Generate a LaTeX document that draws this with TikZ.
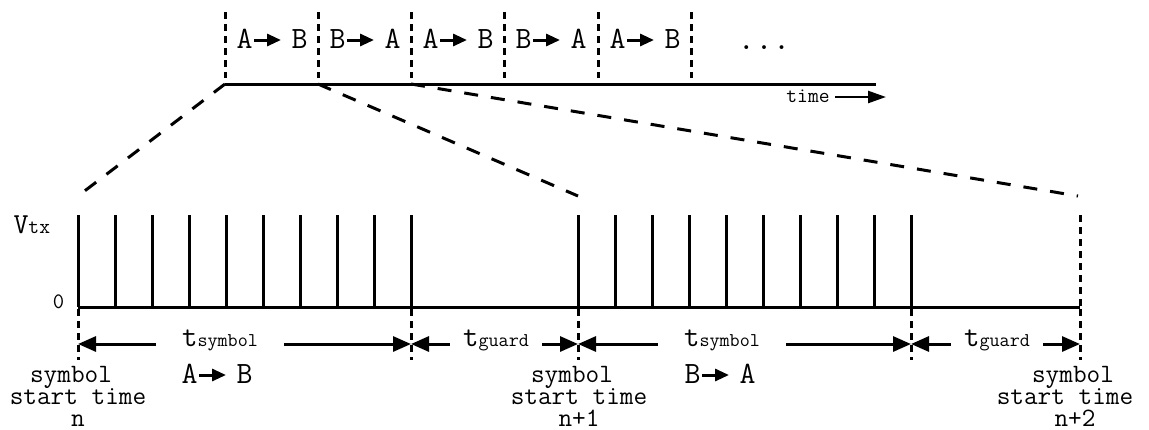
\documentclass[tikz,border=0pt]{standalone}
\usepackage{fontspec}
\usetikzlibrary{arrows.meta}
\newcommand{\fs}[1]{\fontsize{#1bp}{#1bp}\selectfont}
\newcommand{\rarr}{\tikz[baseline=0pt]\draw[line width=3bp,-{Triangle[length=14bp,width=12bp]}] (0bp,8bp) -- (27bp,8bp);}
\begin{document}
\begin{tikzpicture}[x=1bp,y=-1bp, line width=3bp,
  every node/.style={inner sep=0pt, font=\ttfamily},
  vdash/.style={dash pattern=on 6.5bp off 5.5bp},
  sdash/.style={dash pattern=on 14bp off 13bp},
  dim/.style={-{Triangle[length=18bp,width=15bp]}},
  symlab/.style={inner xsep=25bp, anchor=base},
  grdlab/.style={inner xsep=12bp, anchor=base},
  startlab/.style={align=center, anchor=base, font=\ttfamily\fontsize{26.5bp}{22bp}\selectfont},
]
\useasboundingbox (0,0) rectangle (1149,429);

% ---------- top timeline ----------
\foreach \x in {225,318,411,504,598,691} {\draw[vdash] (\x,12) -- (\x,78);}
\coordinate (tl0) at (225,84);
\coordinate (tl1) at (318,84);
\coordinate (tl2) at (411,84);
\coordinate (tlend) at (876,84);
\draw (tl0) -- (tlend);

\node[anchor=base] (s1) at (272,48) {\fs{31}A\rarr\hspace{9bp}B};
\node[anchor=base] (s2) at (365,48) {\fs{31}B\rarr\hspace{9bp}A};
\node[anchor=base] (s3) at (458,48) {\fs{31}A\rarr\hspace{9bp}B};
\node[anchor=base] (s4) at (551,48) {\fs{31}B\rarr\hspace{9bp}A};
\node[anchor=base] (s5) at (645,48) {\fs{31}A\rarr\hspace{9bp}B};
\node[anchor=base] (dots) at (764,49) {\fs{34}...};

\node[anchor=base, inner xsep=4bp] (time) at (808,102) {\fs{21}time};
\coordinate (timeend) at (886,97);
\draw[line width=2.5bp,-{Triangle[length=18bp,width=12bp]}] (time.east |- timeend) -- (timeend);

% ---------- zoom lines ----------
\coordinate (z0) at (78,196);
\coordinate (z1) at (578,196);
\coordinate (z2) at (1078,196);
\draw[sdash] (tl0) -- (z0);
\draw[sdash] (tl1) -- (z1);
\draw[sdash] (tl2) -- (z2);

% ---------- pulse train ----------
\node[anchor=base west] (vtx) at (12,233) {\fs{29}V\fs{21}tx};
\node[anchor=base] (zero) at (58.5,308) {\fs{22}0};
\draw (78,307) -- (1080,307);
\foreach \x in {78,115,...,411} {\draw (\x,215) -- (\x,307);}
\foreach \x in {578,615,...,911} {\draw (\x,215) -- (\x,307);}
\draw[vdash] (1080,215) -- (1080,307);
\foreach \x in {78,411,578,911,1080} {\draw[vdash] (\x,309) -- (\x,360);}

% ---------- dimension lines ----------
\coordinate (k0) at (78,344);
\coordinate (k1) at (411,344);
\coordinate (k2) at (578,344);
\coordinate (k3) at (911,344);
\coordinate (k4) at (1080,344);

\node[symlab] (ts1) at (220,346) {\fs{30}t\fs{19.5}symbol};
\node[grdlab] (tg1) at (496,346) {\fs{30}t\fs{19.5}guard};
\node[symlab] (ts2) at (722,346) {\fs{30}t\fs{19.5}symbol};
\node[grdlab] (tg2) at (997,346) {\fs{30}t\fs{19.5}guard};

\draw[dim] (ts1.west |- k0) -- (k0);
\draw[dim] (ts1.east |- k1) -- (k1);
\draw[dim] (tg1.west |- k1) -- (k1);
\draw[dim] (tg1.east |- k2) -- (k2);
\draw[dim] (ts2.west |- k2) -- (k2);
\draw[dim] (ts2.east |- k3) -- (k3);
\draw[dim] (tg2.west |- k3) -- (k3);
\draw[dim] (tg2.east |- k4) -- (k4);

\node[anchor=base] (d1) at (217,383) {\fs{31}A\rarr\hspace{9bp}B};
\node[anchor=base] (d2) at (720,383) {\fs{31}B\rarr\hspace{9bp}A};

% ---------- start-time labels ----------
\node[startlab] (st0) at (78,426) {symbol\hspace*{14bp}\\start time\\n};
\node[startlab] (st1) at (579,426) {symbol\hspace*{14bp}\\start time\\n+1};
\node[startlab] (st2) at (1065,426) {\hspace*{16bp}symbol\\start time\\\hspace*{20bp}n+2};
\end{tikzpicture}
\end{document}
